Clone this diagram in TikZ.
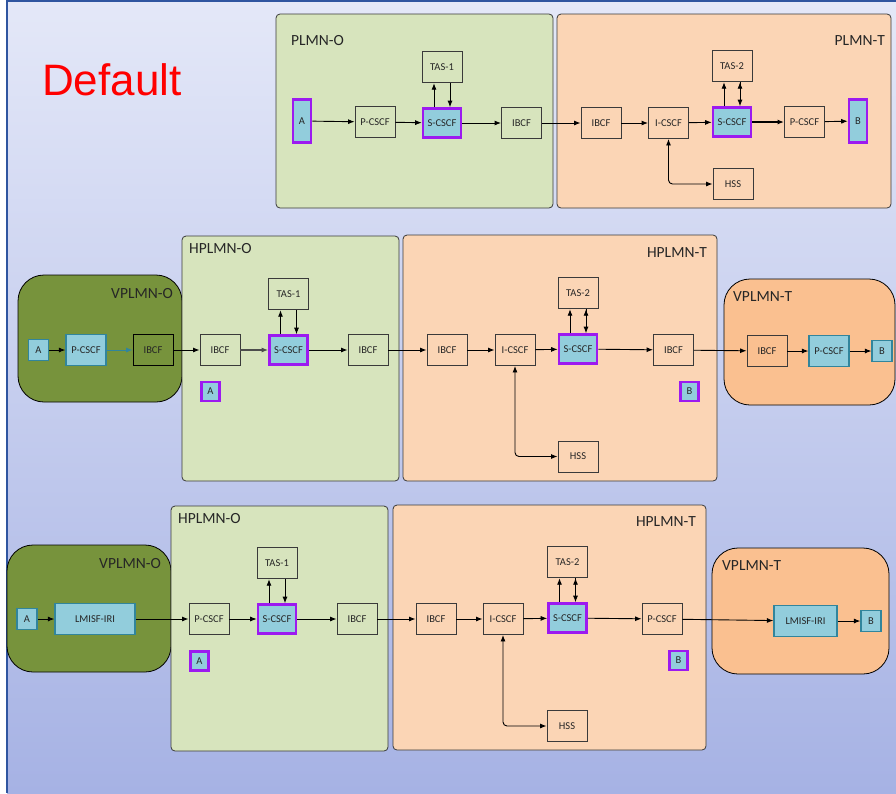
\documentclass[tikz,border=0pt]{standalone}
\usepackage{fontspec}
\setmainfont{Carlito}
\newfontfamily\arialfont{Liberation Sans}
\usetikzlibrary{arrows.meta, positioning}
\definecolor{bgtop}{HTML}{E4E8F8}
\definecolor{bgbot}{HTML}{A6B2E4}
\definecolor{frameblue}{HTML}{2F55A0}
\definecolor{homegreen}{HTML}{D7E4BD}
\definecolor{homepeach}{HTML}{FBD5B5}
\definecolor{visitolive}{HTML}{77933C}
\definecolor{visitpeach}{HTML}{FAC090}
\definecolor{uefill}{HTML}{92CDDC}
\definecolor{uepurple}{HTML}{9C1AF0}
\definecolor{tealline}{HTML}{31859C}
\definecolor{boxline}{HTML}{3A3A3A}

\begin{document}
\begin{tikzpicture}[x=1pt, y=-1pt, node distance=24pt,
	>={Latex[length=6.5pt,width=5pt]},
	nf/.style={draw=boxline, line width=0.9pt, minimum width=40pt,
	minimum height=31pt, inner sep=0pt, text=black!85,
	font=\fontsize{10.5}{12}\selectfont},
	hub/.style={nf, fill=uefill, draw=uepurple, line width=2.6pt,
	minimum width=38pt, minimum height=29pt},
	vnf/.style={nf, fill=uefill, draw=tealline, line width=1.2pt},
	ue/.style={vnf, minimum width=20pt, minimum height=21pt},
	uehome/.style={hub, minimum width=18pt, minimum height=19pt},
	uetall/.style={hub, minimum width=18pt, minimum height=43pt},
	home/.style={draw=boxline, line width=0.8pt, rounded corners=4pt},
	visited/.style={draw=black, line width=0.8pt, rounded corners=26pt},
	title/.style={inner sep=0pt, text=black!85, font=\fontsize{15.5}{18}\selectfont},
	link/.style={->, line width=0.9pt}]

	\useasboundingbox (0,0) rectangle (896,793);
	\fill [white] (0,0) rectangle (896,793);
	\shade [top color=bgtop, bottom color=bgbot] (7,0) rectangle (896,793);
	\draw [frameblue, line width=2pt] (896,1) -- (7,1) -- (7,793);

	\node [anchor=base west, inner sep=0pt, text=red,
	font=\arialfont\fontsize{44}{50}\selectfont] (deflabel) at (42,95) {Default};

	% networks
	\draw [home, fill=homegreen] (276,14) rectangle (553,208);
	\draw [home, fill=homepeach] (557,14) rectangle (891,208);
	\node [title, anchor=west] (plmno) at (291,41) {PLMN-O};
	\node [title, anchor=east] (plmnt) at (885,41) {PLMN-T};

	\draw [visited, fill=visitolive] (18,275) rectangle (182,402);
	\draw [home, fill=homegreen] (182,236) rectangle (399,481);
	\draw [home, fill=homepeach] (403,235) rectangle (717,481);
	\draw [visited, fill=visitpeach] (724,279) rectangle (895,405);
	\node [title, anchor=east] (vplmno2) at (173,294) {VPLMN-O};
	\node [title, anchor=west] (hplmno2) at (189,249) {HPLMN-O};
	\node [title, anchor=east] (hplmnt2) at (707,253) {HPLMN-T};
	\node [title, anchor=west] (vplmnt2) at (733,297) {VPLMN-T};

	\draw [visited, fill=visitolive] (7,545) rectangle (171,672);
	\draw [home, fill=homegreen] (171,506) rectangle (388,751);
	\draw [home, fill=homepeach] (393,505) rectangle (706,750);
	\draw [visited, fill=visitpeach] (712,548) rectangle (889,674);
	\node [title, anchor=east] (vplmno3) at (161,564) {VPLMN-O};
	\node [title, anchor=west] (hplmno3) at (178,519) {HPLMN-O};
	\node [title, anchor=east] (hplmnt3) at (696,522) {HPLMN-T};
	\node [title, anchor=west] (vplmnt3) at (722,566) {VPLMN-T};

	% home routing
	\node [uetall] (ao1) at (302,121) {A};
	\node [nf] (pcscfo1) at (375,122) {P-CSCF};
	\node [hub] (scscfo1) at (442,123) {S-CSCF};
	\node [nf, above=of scscfo1] (taso1) {TAS-1};
	\node [nf] (ibcfo1) at (521.5,123) {IBCF};
	\node [nf] (ibcft1) at (601,123) {IBCF};
	\node [nf] (icscft1) at (668.5,123) {I-CSCF};
	\node [hub] (scscft1) at (732,122) {S-CSCF};
	\node [nf, above=of scscft1] (tast1) {TAS-2};
	\node [nf] (pcscft1) at (804.5,122) {P-CSCF};
	\node [uetall] (bt1) at (858,121) {B};
	\node [nf] (hsst1) at (733,184) {HSS};

	\draw [link]
		(ao1) edge (pcscfo1)
		(pcscfo1) edge (scscfo1)
		(scscfo1) edge (ibcfo1)
		(ibcfo1) edge (ibcft1)
		(ibcft1) edge (icscft1)
		(icscft1) edge (scscft1)
		(scscft1) edge [line width=1.4pt] (pcscft1)
		(pcscft1) edge (bt1)
		([xshift=-8pt]scscfo1.north) edge ([xshift=-8pt]taso1.south)
		([xshift=8pt]taso1.south) edge ([xshift=8pt]scscfo1.north)
		([xshift=-8pt]scscft1.north) edge ([xshift=-8pt]tast1.south)
		([xshift=8pt]tast1.south) edge ([xshift=8pt]scscft1.north);
	\draw [link, <->, rounded corners=4pt] (icscft1) |- (hsst1);

	% roaming, visited P-CSCF
	\node [ue] (ao2) at (38.5,350) {A};
	\node [vnf] (pcscfvo2) at (86,350) {P-CSCF};
	\node [nf, draw=black] (ibcfvo2) at (153,350) {IBCF};
	\node [nf] (ibcfho2) at (220,350) {IBCF};
	\node [hub] (scscfho2) at (288.5,350) {S-CSCF};
	\node [nf, above=of scscfho2] (tasho2) {TAS-1};
	\node [nf] (ibcfxo2) at (368,350) {IBCF};
	\node [uehome] (aho2) at (210.5,391.5) {A};
	\node [nf] (ibcfht2) at (447,350) {IBCF};
	\node [nf] (icscfht2) at (515,350) {I-CSCF};
	\node [hub] (scscfht2) at (578,349) {S-CSCF};
	\node [nf, above=of scscfht2] (tasht2) {TAS-2};
	\node [nf] (ibcfxt2) at (673.5,350) {IBCF};
	\node [uehome] (bht2) at (689.5,391.5) {B};
	\node [nf] (hssht2) at (578,456.5) {HSS};
	\node [nf] (ibcfvt2) at (767,351) {IBCF};
	\node [vnf] (pcscfvt2) at (829,351) {P-CSCF};
	\node [ue] (bvt2) at (882,351) {B};

	\draw [link]
		(ao2) edge (pcscfvo2)
		(pcscfvo2) edge [tealline] (ibcfvo2)
		(ibcfvo2) edge (ibcfho2)
		(ibcfho2) edge [line width=1.3pt, black!70] (scscfho2)
		(scscfho2) edge (ibcfxo2)
		(ibcfxo2) edge (ibcfht2)
		(ibcfht2) edge (icscfht2)
		(icscfht2) edge (scscfht2)
		(scscfht2) edge (ibcfxt2)
		(ibcfxt2) edge (ibcfvt2)
		(ibcfvt2) edge (pcscfvt2)
		(pcscfvt2) edge (bvt2)
		([xshift=-8pt]scscfho2.north) edge ([xshift=-8pt]tasho2.south)
		([xshift=8pt]tasho2.south) edge ([xshift=8pt]scscfho2.north)
		([xshift=-8pt]scscfht2.north) edge ([xshift=-8pt]tasht2.south)
		([xshift=8pt]tasht2.south) edge ([xshift=8pt]scscfht2.north);
	\draw [link, <->, rounded corners=4pt] (icscfht2) |- (hssht2);

	% roaming, LMISF
	\node [ue] (ao3) at (27,619) {A};
	\node [vnf, minimum width=80pt] (lmisfvo3) at (95,619) {LMISF-IRI};
	\node [nf] (pcscfho3) at (209,619) {P-CSCF};
	\node [hub] (scscfho3) at (277,619) {S-CSCF};
	\node [nf, above=of scscfho3] (tasho3) {TAS-1};
	\node [nf] (ibcfho3) at (357,619) {IBCF};
	\node [uehome] (aho3) at (199.5,661) {A};
	\node [nf] (ibcfht3) at (436,619) {IBCF};
	\node [nf] (icscfht3) at (503,619) {I-CSCF};
	\node [hub] (scscfht3) at (567.5,618) {S-CSCF};
	\node [nf, above=of scscfht3] (tasht3) {TAS-2};
	\node [nf] (pcscfht3) at (662,619) {P-CSCF};
	\node [uehome] (bht3) at (678.5,660.5) {B};
	\node [nf] (hssht3) at (567,726) {HSS};
	\node [vnf, minimum width=63pt] (lmisfvt3) at (805.5,621) {LMISF-IRI};
	\node [ue] (bvt3) at (871,621) {B};

	\draw [link]
		(ao3) edge (lmisfvo3)
		(lmisfvo3) edge (pcscfho3)
		(pcscfho3) edge (scscfho3)
		(scscfho3) edge (ibcfho3)
		(ibcfho3) edge (ibcfht3)
		(ibcfht3) edge (icscfht3)
		(icscfht3) edge (scscfht3)
		(scscfht3) edge (pcscfht3)
		(pcscfht3) edge (lmisfvt3)
		(lmisfvt3) edge (bvt3)
		([xshift=-8pt]scscfho3.north) edge ([xshift=-8pt]tasho3.south)
		([xshift=8pt]tasho3.south) edge ([xshift=8pt]scscfho3.north)
		([xshift=-8pt]scscfht3.north) edge ([xshift=-8pt]tasht3.south)
		([xshift=8pt]tasht3.south) edge ([xshift=8pt]scscfht3.north);
	\draw [link, <->, rounded corners=4pt] (icscfht3) |- (hssht3);
\end{tikzpicture}
\end{document}
